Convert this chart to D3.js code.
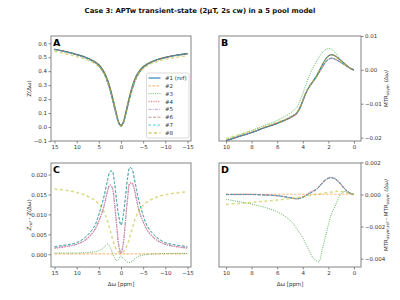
<!DOCTYPE html>
<html><head><meta charset="utf-8">
<script src="https://cdn.jsdelivr.net/npm/d3@7"></script>
<style>body{margin:0;background:#fff}svg{display:block}text{font-family:"DejaVu Sans",sans-serif}</style>
</head><body><svg id="c" width="400" height="300"></svg>
<script>
// ---- data ----
const seriesNames = ["#1 (ref)","#2","#3","#4","#5","#6","#7","#8"];
const xAC = [15,12,10,8,6,5,4,3.5,3,2.5,2,1.5,1,0.5,0,-0.5,-1,-1.5,-2,-2.5,-3,-3.5,-4,-5,-6,-8,-10,-12,-15];
const xBD = [10,9,8,7,6,5,4.5,4.25,4,3.75,3.5,3.25,3,2.75,2.5,2.25,2,1.75,1.5,1.25,1,0.75,0.5,0.25,0];
const xTicksAC = [15,10,5,0,-5,-10,-15];
const xTicksBD = [10,8,6,4,2,0];
const yTicksA = [-0.1,0,0.1,0.2,0.3,0.4,0.5,0.6];
const yTicksB = [-0.02,-0.01,0,0.01];
const yTicksC = [0,0.005,0.01,0.015,0.02];
const yTicksD = [-0.004,-0.002,0,0.002];

// Panel A: Z(Δω)
const zA1 = [0.557,0.537,0.520,0.500,0.470,0.446,0.405,0.375,0.335,0.285,0.225,0.158,0.090,0.032,0.010,0.033,0.093,0.162,0.229,0.286,0.333,0.370,0.396,0.432,0.454,0.482,0.499,0.512,0.526];
const zA2 = [0.557,0.537,0.520,0.500,0.470,0.446,0.405,0.375,0.335,0.285,0.225,0.158,0.090,0.032,0.010,0.033,0.093,0.162,0.229,0.286,0.333,0.370,0.396,0.432,0.454,0.482,0.499,0.512,0.526];
const zA3 = [0.5567,0.5367,0.5197,0.4996,0.4694,0.4451,0.4035,0.3728,0.3324,0.2831,0.2245,0.1588,0.0916,0.0332,0.0104,0.034,0.0946,0.164,0.2311,0.2878,0.3342,0.3708,0.3965,0.4322,0.454,0.4819,0.4988,0.5118,0.5258];
const zA4 = [0.5555,0.535,0.5175,0.4964,0.464,0.4377,0.3936,0.3614,0.319,0.2678,0.2082,0.145,0.0825,0.0298,0.0098,0.0304,0.0848,0.1479,0.2113,0.2681,0.3167,0.3563,0.3848,0.4239,0.4481,0.4784,0.4965,0.51,0.5245];
const zA5 = [0.5555,0.535,0.5175,0.4964,0.464,0.4377,0.3936,0.3614,0.319,0.2678,0.2082,0.145,0.0825,0.0298,0.0098,0.0304,0.0848,0.1479,0.2113,0.2681,0.3167,0.3563,0.3848,0.4239,0.4481,0.4784,0.4965,0.51,0.5245];
const zA6 = [0.5551,0.5346,0.5171,0.4957,0.463,0.436,0.3912,0.359,0.3165,0.2644,0.2042,0.14,0.0765,0.0225,0.0027,0.0233,0.0789,0.143,0.2072,0.2647,0.3142,0.3539,0.3824,0.4222,0.4471,0.4777,0.4961,0.5096,0.5241];
const zA7 = [0.5551,0.5346,0.5171,0.4957,0.463,0.436,0.3912,0.359,0.3165,0.2644,0.2042,0.14,0.0765,0.0225,0.0027,0.0233,0.0789,0.143,0.2072,0.2647,0.3142,0.3539,0.3824,0.4222,0.4471,0.4777,0.4961,0.5096,0.5241];
const zA8 = [0.5406,0.521,0.5045,0.4852,0.4564,0.4334,0.394,0.3652,0.3268,0.2788,0.2208,0.1556,0.0889,0.0315,0.0096,0.0324,0.0917,0.1594,0.2247,0.2797,0.3248,0.3603,0.3852,0.4197,0.4408,0.4677,0.4841,0.4967,0.5103];

// Panel C: Z_ref - Z(Δω)  (#1 is the reference itself, not drawn)
const dC2 = [0.0001,0.0001,0.0001,0.0001,0.0001,0.0001,0.0001,0.0001,0.0001,0.0001,0.0001,0.0001,0.0001,0.0001,0.0001,0.0001,0.0001,0.0001,0.0001,0.0001,0.0001,0.0001,0.0001,0.0001,0.0001,0.0001,0.0001,0.0001,0.0001];
const dC3 = [0.0003,0.0003,0.0003,0.0004,0.0006,0.0009,0.0015,0.0022,0.0026,0.0019,0.0005,-0.0008,-0.0016,-0.0012,-0.0004,-0.0010,-0.0016,-0.0020,-0.0021,-0.0018,-0.0012,-0.0008,-0.0005,-0.0002,0.0,0.0001,0.0002,0.0002,0.0002];
const dC4 = [0.0015,0.0020,0.0025,0.0036,0.0060,0.0083,0.0114,0.0136,0.0160,0.0174,0.0168,0.0130,0.0075,0.0022,0.0002,0.0026,0.0082,0.0141,0.0178,0.0179,0.0163,0.0137,0.0112,0.0081,0.0059,0.0036,0.0025,0.0020,0.0015];
const dC5 = [0.0016,0.0020,0.0025,0.0036,0.0060,0.0083,0.0114,0.0136,0.0160,0.0174,0.0168,0.0131,0.0076,0.0023,0.0003,0.0027,0.0082,0.0141,0.0178,0.0178,0.0163,0.0137,0.0112,0.0082,0.0059,0.0036,0.0025,0.0020,0.0016];
const dC6 = [0.0019,0.0024,0.0029,0.0043,0.0070,0.0100,0.0138,0.0162,0.0188,0.0207,0.0209,0.0182,0.0135,0.0095,0.0073,0.0097,0.0143,0.0193,0.0218,0.0214,0.0190,0.0162,0.0136,0.0098,0.0069,0.0043,0.0029,0.0024,0.0019];
const dC7 = [0.0019,0.0024,0.0029,0.0043,0.0070,0.0100,0.0138,0.0162,0.0188,0.0207,0.0209,0.0182,0.0135,0.0095,0.0073,0.0097,0.0143,0.0193,0.0218,0.0214,0.0190,0.0162,0.0136,0.0098,0.0069,0.0043,0.0029,0.0024,0.0019];
const dC8 = [0.0164,0.0160,0.0155,0.0148,0.0136,0.0126,0.0110,0.0098,0.0082,0.0062,0.0042,0.0024,0.0011,0.0005,0.0004,0.0006,0.0013,0.0026,0.0043,0.0063,0.0082,0.0097,0.0108,0.0123,0.0132,0.0143,0.0149,0.0153,0.0157];

// Panel B: MTR_asym(Δω)
const mB1 = [-0.0209,-0.0197,-0.0185,-0.0171,-0.0158,-0.0142,-0.0130,-0.0115,-0.0092,-0.0068,-0.0050,-0.0036,-0.0022,-0.0005,0.0013,0.0030,0.0041,0.0045,0.0042,0.0035,0.0027,0.0019,0.0011,0.0004,0];
const mB2 = [-0.0209,-0.0197,-0.0185,-0.0171,-0.0158,-0.0142,-0.0130,-0.0115,-0.0092,-0.0068,-0.0050,-0.0036,-0.0022,-0.0005,0.0013,0.0030,0.0041,0.0045,0.0042,0.0035,0.0027,0.0019,0.0011,0.0004,0];
const mB3 = [-0.0206,-0.0193,-0.0179,-0.0164,-0.0149,-0.0128,-0.0112,-0.0094,-0.0070,-0.0043,-0.0018,0.0003,0.0020,0.0036,0.0050,0.0059,0.0063,0.0061,0.0052,0.0040,0.0029,0.0019,0.0011,0.0004,0];
const mB4 = [-0.0209,-0.0197,-0.0185,-0.01707,-0.01572,-0.0140,-0.01273,-0.01126,-0.00904,-0.00675,-0.00508,-0.0038,-0.0025,-0.00097,0.0006,0.0021,0.00308,0.00344,0.0032,0.00266,0.00208,0.00152,0.00091,0.00034,0];
const mB5 = [-0.0209,-0.0197,-0.0185,-0.01707,-0.01572,-0.0140,-0.01273,-0.01126,-0.00904,-0.00675,-0.00508,-0.0038,-0.0025,-0.00097,0.0006,0.0021,0.00308,0.00344,0.0032,0.00266,0.00208,0.00152,0.00091,0.00034,0];
const mB6 = [-0.0209,-0.0197,-0.0185,-0.01707,-0.01572,-0.0140,-0.01273,-0.01125,-0.00902,-0.00672,-0.00505,-0.00375,-0.00247,-0.00095,0.00062,0.00212,0.0031,0.00346,0.00322,0.00268,0.0021,0.00154,0.00092,0.00034,0];
const mB7 = [-0.0209,-0.0197,-0.0185,-0.01707,-0.01572,-0.0140,-0.01273,-0.01125,-0.00902,-0.00672,-0.00505,-0.00375,-0.00247,-0.00095,0.00062,0.00212,0.0031,0.00346,0.00322,0.00268,0.0021,0.00154,0.00092,0.00034,0];
const mB8 = [-0.02028,-0.01914,-0.018,-0.01668,-0.01545,-0.01395,-0.0128,-0.01133,-0.00905,-0.0067,-0.00494,-0.00357,-0.0022,-0.00053,0.00123,0.0029,0.00398,0.00435,0.00402,0.0033,0.00252,0.00175,0.001,0.00036,0];

// Panel D: MTR_asym,ref - MTR_asym(Δω)  (#1 not drawn)
const dD2 = [0.00001,0.00001,0.00001,0.00001,0.00001,0.00001,0.00001,0.00001,0.00001,0.00001,0.00001,0.00001,0.00001,0.00001,0.00001,0.00001,0.00001,0.00001,0.00001,0.00001,0.00001,0.00001,0.00001,0.00001,0];
const dD3 = [-0.0003,-0.00045,-0.0006,-0.0008,-0.00108,-0.0016,-0.0021,-0.0024,-0.0027,-0.0031,-0.0035,-0.0039,-0.0041,-0.0042,-0.0035,-0.0027,-0.0019,-0.0012,-0.00077,-0.0003,0.00005,0.00018,0.00015,0.00006,0];
const dD4 = [0,0,0,-0.00003,-0.00008,-0.0002,-0.00027,-0.00024,-0.00016,-0.00005,0.00008,0.0002,0.0003,0.00047,0.0007,0.0009,0.00102,0.00106,0.001,0.00084,0.00062,0.00038,0.00019,0.00006,0];
const dD5 = [0,0,0,-0.00003,-0.00008,-0.0002,-0.00027,-0.00024,-0.00016,-0.00005,0.00008,0.0002,0.0003,0.00047,0.0007,0.0009,0.00102,0.00106,0.001,0.00084,0.00062,0.00038,0.00019,0.00006,0];
const dD6 = [0,0,0,-0.00003,-0.00008,-0.0002,-0.00027,-0.00025,-0.00018,-0.00008,0.00005,0.00015,0.00027,0.00045,0.00068,0.00088,0.001,0.00104,0.00098,0.00082,0.0006,0.00036,0.00018,0.00006,0];
const dD7 = [0,0,0,-0.00003,-0.00008,-0.0002,-0.00027,-0.00025,-0.00018,-0.00008,0.00005,0.00015,0.00027,0.00045,0.00068,0.00088,0.001,0.00104,0.00098,0.00082,0.0006,0.00036,0.00018,0.00006,0];
const dD8 = [-0.00062,-0.00056,-0.0005,-0.00042,-0.00035,-0.00025,-0.0002,-0.00017,-0.00015,-0.0001,-0.00006,-0.00003,0,0.00003,0.00007,0.0001,0.00012,0.00015,0.00018,0.0002,0.00018,0.00015,0.0001,0.00004,0];

const seriesA = [zA1,zA2,zA3,zA4,zA5,zA6,zA7,zA8];
const seriesB = [mB1,mB2,mB3,mB4,mB5,mB6,mB7,mB8];
const seriesC = [null,dC2,dC3,dC4,dC5,dC6,dC7,dC8];
const seriesD = [null,dD2,dD3,dD4,dD5,dD6,dD7,dD8];

// ---- styles ----
const styles = [
  {c:"#1f77b4", w:1.1, dash:null, op:1},
  {c:"#ff7f0e", w:1.1, dash:"2.5,1.5", op:0.55},
  {c:"#2ca02c", w:1, dash:"1,1.2", op:0.75},
  {c:"#d62728", w:1.4, dash:"1.2,1.2", op:0.5},
  {c:"#9467bd", w:1, dash:"3,1.2,1,1.2", op:0.6},
  {c:"#8c564b", w:1, dash:"3,1.5", op:0.6},
  {c:"#17becf", w:1, dash:"2.5,2", op:0.8},
  {c:"#bcbd22", w:1.5, dash:"3,2.5", op:0.55}
];

const svg = d3.select("#c");
svg.append("text").attr("x",200).attr("y",13).attr("text-anchor","middle")
  .attr("font-size",6.9).attr("font-weight","bold").attr("fill","#111")
  .text("Case 3: APTw transient-state (2\u03bcT, 2s cw) in a 5 pool model");

const defs = svg.append("defs");
let clipId = 0;
function panel(box, xDom, yDom, xTicks, yTicks, yFmt, xs, data, right, letter){
  const x = d3.scaleLinear().domain(xDom).range([box.l, box.r]);
  const y = d3.scaleLinear().domain(yDom).range([box.b, box.t]);
  const g = svg.append("g");
  const id = "clip" + (clipId++);
  defs.append("clipPath").attr("id", id).append("rect")
    .attr("x", box.l).attr("y", box.t).attr("width", box.r-box.l).attr("height", box.b-box.t);
  const lines = g.append("g").attr("clip-path", `url(#${id})`);
  const line = d3.line().x((d,i)=>x(xs[i])).y(d=>y(d)).curve(d3.curveCatmullRom.alpha(0.5));
  data.forEach((arr,k)=>{
    if(!arr) return;
    const s = styles[k];
    lines.append("path").attr("d", line(arr)).attr("fill","none")
      .attr("stroke", s.c).attr("stroke-width", s.w).attr("stroke-opacity", s.op)
      .attr("stroke-dasharray", s.dash);
  });
  const xa = g.append("g").attr("transform",`translate(0,${box.b})`)
    .call(d3.axisBottom(x).tickValues(xTicks).tickFormat(d3.format("d")).tickSize(2.5).tickPadding(1.5));
  const ya = g.append("g").attr("transform",`translate(${right?box.r:box.l},0)`)
    .call((right?d3.axisRight(y):d3.axisLeft(y)).tickValues(yTicks).tickFormat(d3.format(yFmt)).tickSize(2.5).tickPadding(1.5));
  [xa,ya].forEach(a=>{
    a.select(".domain").remove();
    a.selectAll("line").attr("stroke","#555").attr("stroke-width",0.7);
    a.selectAll("text").attr("font-size",5.5).attr("fill","#333").attr("font-family","DejaVu Sans");
  });
  g.append("rect").attr("x",box.l).attr("y",box.t).attr("width",box.r-box.l).attr("height",box.b-box.t)
    .attr("fill","none").attr("stroke","#777").attr("stroke-width",0.9);
  g.append("text").attr("x",box.l+2).attr("y",box.t+9.5).attr("font-size",9.5).attr("font-weight","bold")
    .attr("fill","#000").text(letter);
  return {x,y,g};
}

const boxA = {l:51,r:191,t:36,b:141};
const boxB = {l:219,r:361,t:36,b:141};
const boxC = {l:51,r:191,t:163,b:267};
const boxD = {l:219,r:361,t:163,b:267};

panel(boxA,[15.8,-15.8],[-0.1,0.652],xTicksAC,yTicksA,".1f",xAC,seriesA,false,"A");
panel(boxB,[10.55,-0.55],[-0.021,0.01],xTicksBD,yTicksB,".2f",xBD,seriesB,true,"B");
panel(boxC,[15.8,-15.8],[-0.0032,0.0229],xTicksAC,yTicksC,".3f",xAC,seriesC,false,"C");
panel(boxD,[10.55,-0.55],[-0.00452,0.00196],xTicksBD,yTicksD,".3f",xBD,seriesD,true,"D");

function ylab(x, yc, build){
  const t = svg.append("text").attr("transform",`translate(${x},${yc}) rotate(-90)`)
    .attr("text-anchor","middle").attr("font-size",5.5).attr("fill","#333");
  build(t);
}
ylab(31, 88.5, t=>t.text("Z(\u0394\u03c9)"));
ylab(31, 215, t=>{
  t.append("tspan").attr("font-style","italic").text("Z");
  t.append("tspan").attr("font-size",4).attr("font-style","italic").attr("dy",1.3).text("ref");
  t.append("tspan").attr("dy",-1.3).text(" - Z(\u0394\u03c9)");
});
ylab(388, 88.5, t=>{
  t.append("tspan").text("MTR");
  t.append("tspan").attr("font-size",4).attr("dy",1.3).text("asym");
  t.append("tspan").attr("dy",-1.3).attr("font-style","italic").text(" (\u0394\u03c9)");
});
ylab(388, 215, t=>{
  t.append("tspan").text("MTR");
  t.append("tspan").attr("font-size",4).attr("dy",1.3).text("asym,ref");
  t.append("tspan").attr("dy",-1.3).text(" - MTR");
  t.append("tspan").attr("font-size",4).attr("dy",1.3).text("asym");
  t.append("tspan").attr("dy",-1.3).attr("font-style","italic").text(" (\u0394\u03c9)");
});
[121,290].forEach(cx=>{
  svg.append("text").attr("x",cx).attr("y",286).attr("text-anchor","middle").attr("font-size",5.5)
    .attr("fill","#333").text("\u0394\u03c9 [ppm]");
});

const lg = svg.append("g");
lg.append("rect").attr("x",146.5).attr("y",73).attr("width",42.5).attr("height",65).attr("rx",1.5)
  .attr("fill","#fff").attr("fill-opacity",0.85).attr("stroke","#ccc").attr("stroke-width",0.7);
seriesNames.forEach((n,k)=>{
  const s = styles[k], yy = 78 + k*7.85;
  lg.append("line").attr("x1",148.5).attr("x2",160.5).attr("y1",yy).attr("y2",yy)
    .attr("stroke",s.c).attr("stroke-width",k===7?2:s.w).attr("stroke-opacity",s.op).attr("stroke-dasharray",s.dash);
  lg.append("text").attr("x",165).attr("y",yy+2).attr("font-size",5.5).attr("fill","#333").text(n);
});
</script></body></html>
